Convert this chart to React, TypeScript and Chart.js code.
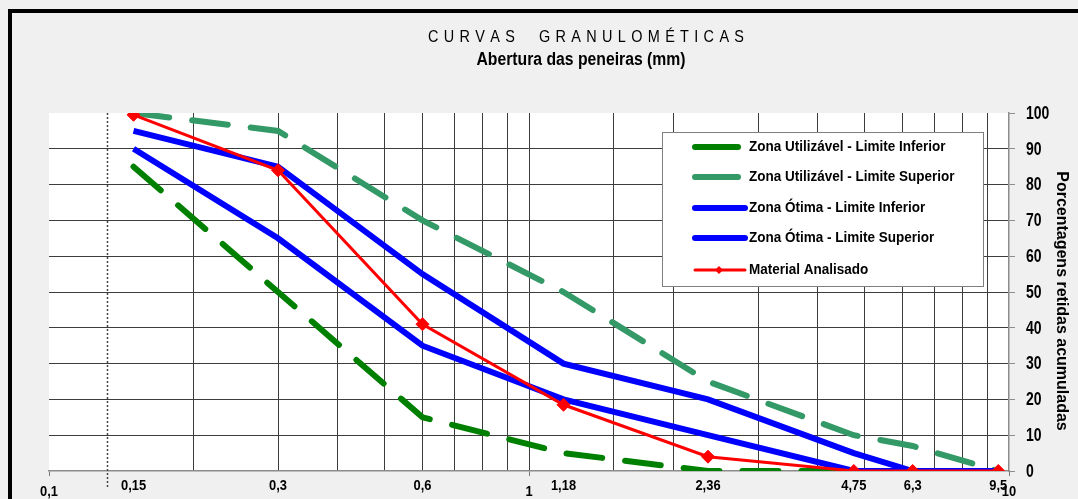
import React, { useEffect, useRef } from 'react';
import { Chart, registerables } from 'chart.js';

Chart.register(...registerables);

// ---- data ----
const sieveSizes = [0.15, 0.3, 0.6, 1.18, 2.36, 4.75, 6.3, 9.5];
const sieveLabels = ['0,15', '0,3', '0,6', '1,18', '2,36', '4,75', '6,3', '9,5'];
const utilInferior = [85, 50, 15, 5, 0, 0, 0, 0];
const utilSuperior = [100, 95, 70, 50, 25, 10, 7, 0];
const otimaInferior = [90, 65, 35, 20, 10, 0, 0, 0];
const otimaSuperior = [95, 85, 55, 30, 20, 5, 0, 0];
const materialAnalisado = [99.5, 84, 41, 18.5, 4, 0, 0, 0];
const seriesNames = [
  'Zona Utilizável - Limite Inferior',
  'Zona Utilizável - Limite Superior',
  'Zona Ótima - Limite Inferior',
  'Zona Ótima - Limite Superior',
  'Material Analisado',
];
const xMajorTicks = [0.1, 1, 10];
const xMajorLabels = ['0,1', '1', '10'];
const yTickValues = [0, 10, 20, 30, 40, 50, 60, 70, 80, 90, 100];
const referenceLineX = 0.132;
const chartTitle = 'CURVAS  GRANULOMÉTICAS';
const chartSubtitle = 'Abertura das peneiras (mm)';
const yAxisTitle = 'Porcentagens retidas acumuladas';

const FONT = '"Liberation Sans", Arial, sans-serif';
const DARK_GREEN = '#008000';
const SEA_GREEN = '#339966';
const BLUE = '#0000ff';
const RED = '#ff0000';

const toPoints = (ys: number[]) => sieveSizes.map((x, i) => ({ x, y: ys[i] }));
const isMajor = (v: number) => Math.abs(Math.log10(v) - Math.round(Math.log10(v))) < 1e-6;

function drawText(ctx: CanvasRenderingContext2D, text: string, x: number, y: number, font: string, sx: number, align: CanvasTextAlign) {
  ctx.save();
  ctx.font = font;
  ctx.translate(x, y);
  ctx.scale(sx, 1);
  ctx.textAlign = align;
  ctx.textBaseline = 'middle';
  ctx.fillText(text, 0, 0);
  ctx.restore();
}

function drawSpaced(ctx: CanvasRenderingContext2D, text: string, left: number, right: number, y: number, font: string, sx: number) {
  ctx.save();
  ctx.font = font;
  ctx.textAlign = 'left';
  ctx.textBaseline = 'middle';
  const chars = Array.from(text);
  const widths = chars.map((c) => ctx.measureText(c).width * sx);
  const total = widths.reduce((a, b) => a + b, 0);
  const gap = (right - left - total) / (chars.length - 1);
  let x = left;
  chars.forEach((c, i) => {
    ctx.save();
    ctx.translate(x, y);
    ctx.scale(sx, 1);
    ctx.fillText(c, 0, 0);
    ctx.restore();
    x += widths[i] + gap;
  });
  ctx.restore();
}

const decorPlugin = {
  id: 'decor',
  beforeDraw(chart: any) {
    const { ctx, width, height, chartArea } = chart;
    ctx.save();
    ctx.fillStyle = '#f0f0f0';
    ctx.fillRect(0, 0, width, height);
    ctx.fillStyle = '#ffffff';
    ctx.fillRect(chartArea.left, chartArea.top, chartArea.right - chartArea.left, chartArea.bottom - chartArea.top);
    ctx.fillStyle = '#000000';
    ctx.fillRect(8, 9, width - 8, 4);
    ctx.fillRect(8, 9, 4, height - 9);
    ctx.restore();
  },
  beforeDatasetsDraw(chart: any) {
    const { ctx, chartArea, scales } = chart;
    const x = Math.round(scales.x.getPixelForValue(referenceLineX)) + 0.5;
    ctx.save();
    ctx.strokeStyle = '#444';
    ctx.lineWidth = 1.5;
    ctx.setLineDash([2, 2]);
    ctx.beginPath();
    ctx.moveTo(x, chartArea.top);
    ctx.lineTo(x, chartArea.bottom + 17);
    ctx.stroke();
    ctx.restore();
  },
  afterDraw(chart: any) {
    const { ctx, scales } = chart;
    ctx.save();
    ctx.fillStyle = '#000';
    // titles
    drawSpaced(ctx, chartTitle, 428, 744, 37, '17px ' + FONT, 0.85);
    drawText(ctx, chartSubtitle, 581, 60, 'bold 17.5px ' + FONT, 0.9, 'center');

    // x-axis sieve labels and major labels
    const xf = 'bold 15px ' + FONT;
    sieveSizes.forEach((v, i) => {
      drawText(ctx, sieveLabels[i], scales.x.getPixelForValue(v), 486, xf, 0.86, 'center');
    });
    xMajorTicks.forEach((v, i) => {
      drawText(ctx, xMajorLabels[i], scales.x.getPixelForValue(v), 492, xf, 0.86, 'center');
    });

    // y tick labels
    yTickValues.forEach((v) => {
      drawText(ctx, String(v), 1026, scales.y.getPixelForValue(v) + 1, 'bold 17.5px ' + FONT, 0.8, 'left');
    });

    // y axis title
    ctx.save();
    ctx.translate(1062, 301);
    ctx.rotate(Math.PI / 2);
    drawText(ctx, yAxisTitle, 0, 0, 'bold 17px ' + FONT, 0.94, 'center');
    ctx.restore();

    // legend
    const lx = 662, ly = 132, lw = 321, lh = 154;
    ctx.fillStyle = '#fff';
    ctx.fillRect(lx, ly, lw, lh);
    ctx.strokeStyle = '#808080';
    ctx.lineWidth = 1;
    ctx.strokeRect(lx + 0.5, ly + 0.5, lw, lh);
    const rows = [147, 177, 208, 238, 270];
    const styles = [
      { color: DARK_GREEN, w: 6, x2: 738 },
      { color: SEA_GREEN, w: 6, x2: 738 },
      { color: BLUE, w: 6, x2: 745 },
      { color: BLUE, w: 6, x2: 745 },
      { color: RED, w: 3, x2: 745 },
    ];
    ctx.lineCap = 'round';
    rows.forEach((y, i) => {
      const s = styles[i];
      ctx.strokeStyle = s.color;
      ctx.lineWidth = s.w;
      ctx.beginPath();
      ctx.moveTo(695, y);
      ctx.lineTo(s.x2, y);
      ctx.stroke();
      if (i === 4) {
        ctx.fillStyle = RED;
        ctx.beginPath();
        ctx.moveTo(719, y - 4);
        ctx.lineTo(723, y);
        ctx.lineTo(719, y + 4);
        ctx.lineTo(715, y);
        ctx.closePath();
        ctx.fill();
      }
      ctx.fillStyle = '#000';
      drawText(ctx, seriesNames[i], 749, y, 'bold 15px ' + FONT, 0.9, 'left');
    });
    ctx.restore();
  },
};

export default function App() {
  const canvasRef = useRef<HTMLCanvasElement | null>(null);

  useEffect(() => {
    const canvas = canvasRef.current;
    if (!canvas) return;
    const dashed = { borderDash: [36, 23], borderCapStyle: 'round' as const };
    const chart = new Chart(canvas, {
      type: 'line',
      data: {
        datasets: [
          { label: seriesNames[0], data: toPoints(utilInferior), borderColor: DARK_GREEN, borderWidth: 6, pointRadius: 0, order: 3, ...dashed },
          { label: seriesNames[1], data: toPoints(utilSuperior), borderColor: SEA_GREEN, borderWidth: 6, pointRadius: 0, order: 3, ...dashed },
          { label: seriesNames[2], data: toPoints(otimaInferior), borderColor: BLUE, borderWidth: 6, pointRadius: 0, order: 2 },
          { label: seriesNames[3], data: toPoints(otimaSuperior), borderColor: BLUE, borderWidth: 6, pointRadius: 0, order: 2 },
          {
            label: seriesNames[4],
            data: toPoints(materialAnalisado),
            borderColor: RED,
            backgroundColor: RED,
            borderWidth: 3,
            pointStyle: 'rectRot',
            pointRadius: 6.5,
            pointBorderWidth: 1,
            order: 1,
          },
        ],
      },
      options: {
        animation: false,
        responsive: false,
        devicePixelRatio: 1,
        layout: { padding: { left: 49, top: 113, right: 0, bottom: 0 } },
        plugins: { legend: { display: false }, tooltip: { enabled: false }, title: { display: false } },
        scales: {
          x: {
            type: 'logarithmic',
            min: 0.1,
            max: 10,
            afterFit: (s: any) => { s.height = 28; },
            border: { color: '#8c8c8c', width: 1.5 },
            grid: {
              color: (c: any) => (c.tick && isMajor(c.tick.value) && (c.tick.value < 0.5 || c.tick.value > 5) ? 'rgba(0,0,0,0)' : '#3c3c3c'),
              tickColor: (c: any) => (c.tick && isMajor(c.tick.value) ? '#777' : 'rgba(0,0,0,0)'),
              tickLength: 5,
              lineWidth: 1,
            },
            ticks: { autoSkip: false, maxRotation: 0, callback: () => '' },
          },
          y: {
            position: 'right',
            min: 0,
            max: 100,
            afterFit: (s: any) => { s.width = 69; },
            afterBuildTicks: (s: any) => { s.ticks = yTickValues.map((v) => ({ value: v })); },
            border: { color: '#8c8c8c', width: 1.5 },
            grid: {
              color: (c: any) => (c.tick && (c.tick.value === 100 || c.tick.value === 0) ? 'rgba(0,0,0,0)' : '#3c3c3c'),
              tickColor: '#8c8c8c',
              tickLength: 6,
              lineWidth: 1,
            },
            ticks: { padding: 10, callback: () => '' },
          },
        },
      } as any,
      plugins: [decorPlugin],
    });
    return () => chart.destroy();
  }, []);

  return (
    <div style={{ position: 'absolute', left: 0, top: 0, width: 1078, height: 499 }}>
      <canvas ref={canvasRef} width={1078} height={499} style={{ display: 'block', width: 1078, height: 499 }} />
    </div>
  );
}
